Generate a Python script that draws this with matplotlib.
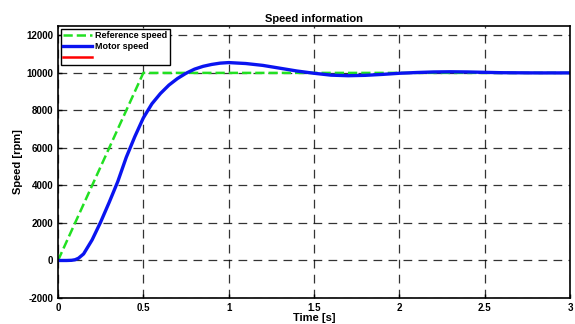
import matplotlib
matplotlib.use('Agg')
import matplotlib.pyplot as plt

# reference profile: ramp to setpoint then hold
ref_time = [0, 0.5, 3.0]
ref_speed = [0, 10000, 10000]

# measured motor speed
motor_time = [0, 0.05, 0.08, 0.1, 0.12, 0.15, 0.2, 0.25, 0.3, 0.35, 0.4, 0.45, 0.5, 0.55,
              0.6, 0.65, 0.7, 0.75, 0.8, 0.85, 0.9, 0.95, 1.0, 1.1, 1.2, 1.3, 1.4, 1.5,
              1.6, 1.7, 1.8, 1.9, 2.0, 2.1, 2.2, 2.3, 2.4, 2.5, 2.6, 2.8, 3.0]
motor_speed = [0, 0, 10, 40, 120, 350, 1100, 2050, 3100, 4200, 5500, 6600, 7600, 8350,
               8900, 9350, 9700, 9980, 10200, 10350, 10450, 10520, 10550, 10500, 10400,
               10250, 10100, 9980, 9880, 9850, 9870, 9920, 9980, 10020, 10050, 10060,
               10050, 10030, 10010, 10000, 10000]

plt.rcParams['font.family'] = 'Liberation Sans'
plt.rcParams['font.weight'] = 'bold'
plt.rcParams['axes.unicode_minus'] = False

fig = plt.figure(figsize=(5.75, 3.24), dpi=100)
ax = fig.add_axes([58/575, 26/324, 512/575, 272/324])

ax.plot(ref_time, ref_speed, '--', color='#22e022', linewidth=1.8, label='Reference speed')
ax.plot(motor_time, motor_speed, '-', color='#0a14f0', linewidth=2.4, label='Motor speed')
ax.plot([], [], '-', color='red', linewidth=1.8, label=' ')

ax.set_xlim(0, 3)
ax.set_ylim(-2000, 12500)
ax.set_xticks([0, 0.5, 1, 1.5, 2, 2.5, 3])
ax.set_xticklabels(['0', '0.5', '1', '1.5', '2', '2.5', '3'])
ax.set_yticks(range(-2000, 12001, 2000))
ax.tick_params(direction='in', labelsize=7, length=3, width=1)
for lbl in ax.get_xticklabels() + ax.get_yticklabels():
    lbl.set_fontweight('bold')
for s in ax.spines.values():
    s.set_linewidth(1.2)

ax.grid(True, color='black', linestyle=(0, (7, 5)), linewidth=0.9, alpha=0.8)

ax.set_title('Speed information', fontsize=8, fontweight='bold', pad=3)
ax.set_xlabel('Time [s]', fontsize=8, fontweight='bold', labelpad=0)
ax.set_ylabel('Speed [rpm]', fontsize=8, fontweight='bold', labelpad=2)

leg = ax.legend(loc='upper left', fontsize=6.5, frameon=True, fancybox=False,
                edgecolor='black', framealpha=1, borderpad=0.3, labelspacing=0.2,
                handlelength=3.2, handletextpad=0.3, borderaxespad=0.3)
leg.get_frame().set_linewidth(1.0)
for t in leg.get_texts():
    t.set_fontweight('bold')

fig.savefig('out.png', dpi=100)
